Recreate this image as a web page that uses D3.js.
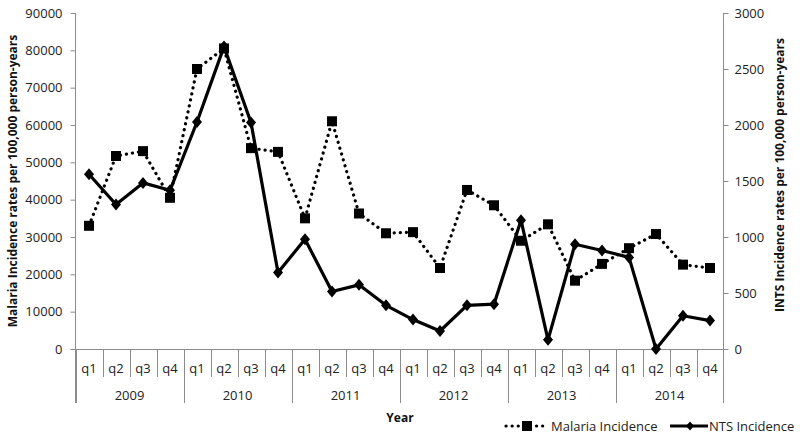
<!DOCTYPE html>
<html>
<head>
<meta charset="utf-8">
<script src="https://cdn.jsdelivr.net/npm/d3@7"></script>
<style>
  body { margin: 0; background: #fff; }
  svg { display: block; font-family: "Open Sans", sans-serif; }
</style>
</head>
<body>
<svg id="chart" width="800" height="440"></svg>
<script>
const years = ["2009", "2010", "2011", "2012", "2013", "2014"];
const quarters = ["q1", "q2", "q3", "q4"];
const malaria = [33000, 51700, 53000, 40500, 75000, 80500, 53800, 52800, 35000, 61000, 36300, 31000,
                 31300, 21700, 42600, 38500, 29000, 33400, 18300, 22800, 27000, 30800, 22600, 21700];
const nts = [1560, 1290, 1483, 1417, 2027, 2700, 2023, 683, 980, 513, 573, 390,
             263, 161, 390, 400, 1150, 82, 935, 880, 818, 0, 297, 254];
const leftTicks = [0, 10000, 20000, 30000, 40000, 50000, 60000, 70000, 80000, 90000];
const rightTicks = [0, 500, 1000, 1500, 2000, 2500, 3000];

const cats = [];
years.forEach(y => quarters.forEach(q => cats.push(y + "-" + q)));

const svg = d3.select("#chart");
const L = 75.5, R = 723.5, T = 13, B = 349;
const axisColor = "#8c8c8c";

const x = d3.scaleBand().domain(cats).range([L, R]);
const yL = d3.scaleLinear().domain([0, 90000]).range([B, T]);
const yR = d3.scaleLinear().domain([0, 3000]).range([B, T]);

// Left axis
const gL = svg.append("g").attr("transform", `translate(${L},0)`)
  .call(d3.axisLeft(yL).tickValues(leftTicks).tickSize(5).tickPadding(8).tickFormat(d3.format("d")));
// Right axis
const gR = svg.append("g").attr("transform", `translate(${R},0)`)
  .call(d3.axisRight(yR).tickValues(rightTicks).tickSize(5).tickPadding(6).tickFormat(d3.format("d")));
[gL, gR].forEach(g => {
  g.select(".domain").attr("stroke", axisColor).attr("d", `M0,${T}V${B}`);
  g.selectAll(".tick line").attr("stroke", axisColor);
  g.selectAll(".tick text").attr("fill", "#222").style("font-size", "13px")
    .style("font-family", '"Open Sans", sans-serif');
});

// X axis line
svg.append("line").attr("x1", L - 5).attr("x2", R).attr("y1", B + 0.5).attr("y2", B + 0.5)
  .attr("stroke", axisColor);

// Category separators
const gX = svg.append("g");
cats.forEach((c, i) => {
  const xs = Math.round(x(c)) + 0.5;
  const isYear = i % 4 === 0;
  gX.append("line").attr("x1", xs).attr("x2", xs).attr("y1", B).attr("y2", isYear ? 403 : 377)
    .attr("stroke", axisColor);
});
gX.append("line").attr("x1", R).attr("x2", R).attr("y1", B).attr("y2", 403).attr("stroke", axisColor);
gX.append("line").attr("x1", L).attr("x2", L).attr("y1", B).attr("y2", 403).attr("stroke", axisColor);

// Quarter labels
gX.selectAll("text.q").data(cats).enter().append("text")
  .attr("x", d => x(d) + x.bandwidth() / 2).attr("y", 373)
  .attr("text-anchor", "middle").style("font-size", "13px").attr("fill", "#222")
  .text(d => d.split("-")[1]);
// Year labels
gX.selectAll("text.y").data(years).enter().append("text")
  .attr("x", d => x(d + "-q1") + x.bandwidth() * 2).attr("y", 400)
  .attr("text-anchor", "middle").style("font-size", "13px").attr("fill", "#222")
  .text(d => d);

// Axis titles
svg.append("text").attr("x", 400).attr("y", 422).attr("text-anchor", "middle")
  .style("font-size", "12px").style("font-weight", "bold").attr("fill", "#111").text("Year");
svg.append("text").attr("transform", `translate(17,${(T + B) / 2}) rotate(-90)`)
  .attr("text-anchor", "middle").style("font-size", "12px").style("font-weight", "bold")
  .attr("fill", "#111").text("Malaria Incidence rates per 100,000 person-years");
svg.append("text").attr("transform", `translate(784,${(T + B) / 2 - 6}) rotate(-90)`)
  .attr("text-anchor", "middle").style("font-size", "12px").style("font-weight", "bold")
  .attr("fill", "#111").text("INTS Incidence rates per 100,000 person-years");

const cx = d => x(d) + x.bandwidth() / 2;

// Malaria dotted line
const lineM = d3.line().x((d, i) => cx(cats[i])).y(d => yL(d));
svg.append("path").datum(malaria).attr("d", lineM).attr("fill", "none")
  .attr("stroke", "#000").attr("stroke-width", 3.2).attr("stroke-linecap", "round")
  .attr("stroke-dasharray", "0.1,6");
// NTS solid line
const lineN = d3.line().x((d, i) => cx(cats[i])).y(d => yR(d));
svg.append("path").datum(nts).attr("d", lineN).attr("fill", "none")
  .attr("stroke", "#000").attr("stroke-width", 3.2).attr("stroke-linejoin", "round");

// Markers
const sq = 10;
svg.append("g").selectAll("rect").data(malaria).enter().append("rect")
  .attr("x", (d, i) => cx(cats[i]) - sq / 2).attr("y", d => yL(d) - sq / 2)
  .attr("width", sq).attr("height", sq).attr("fill", "#000");
const diamond = "M0,-6L5,0L0,6L-5,0Z";
svg.append("g").selectAll("path").data(nts).enter().append("path")
  .attr("transform", (d, i) => `translate(${cx(cats[i])},${yR(d)})`)
  .attr("d", diamond).attr("fill", "#000");

// Legend
const lg = svg.append("g");
const ly = 426;
lg.append("line").attr("x1", 506).attr("x2", 547).attr("y1", ly).attr("y2", ly)
  .attr("stroke", "#000").attr("stroke-width", 3.2).attr("stroke-linecap", "round")
  .attr("stroke-dasharray", "0.1,6");
lg.append("rect").attr("x", 527 - sq / 2).attr("y", ly - sq / 2).attr("width", sq).attr("height", sq).attr("fill", "#000");
lg.append("text").attr("x", 551).attr("y", ly + 4.5).style("font-size", "13px").attr("fill", "#222").text("Malaria Incidence");
lg.append("line").attr("x1", 670).attr("x2", 708).attr("y1", ly).attr("y2", ly)
  .attr("stroke", "#000").attr("stroke-width", 3.2);
lg.append("path").attr("transform", `translate(690,${ly})`).attr("d", "M0,-4.5L4,0L0,4.5L-4,0Z").attr("fill", "#000");
lg.append("text").attr("x", 709).attr("y", ly + 4.5).style("font-size", "13px").attr("fill", "#222").text("NTS Incidence");
</script>
</body>
</html>
